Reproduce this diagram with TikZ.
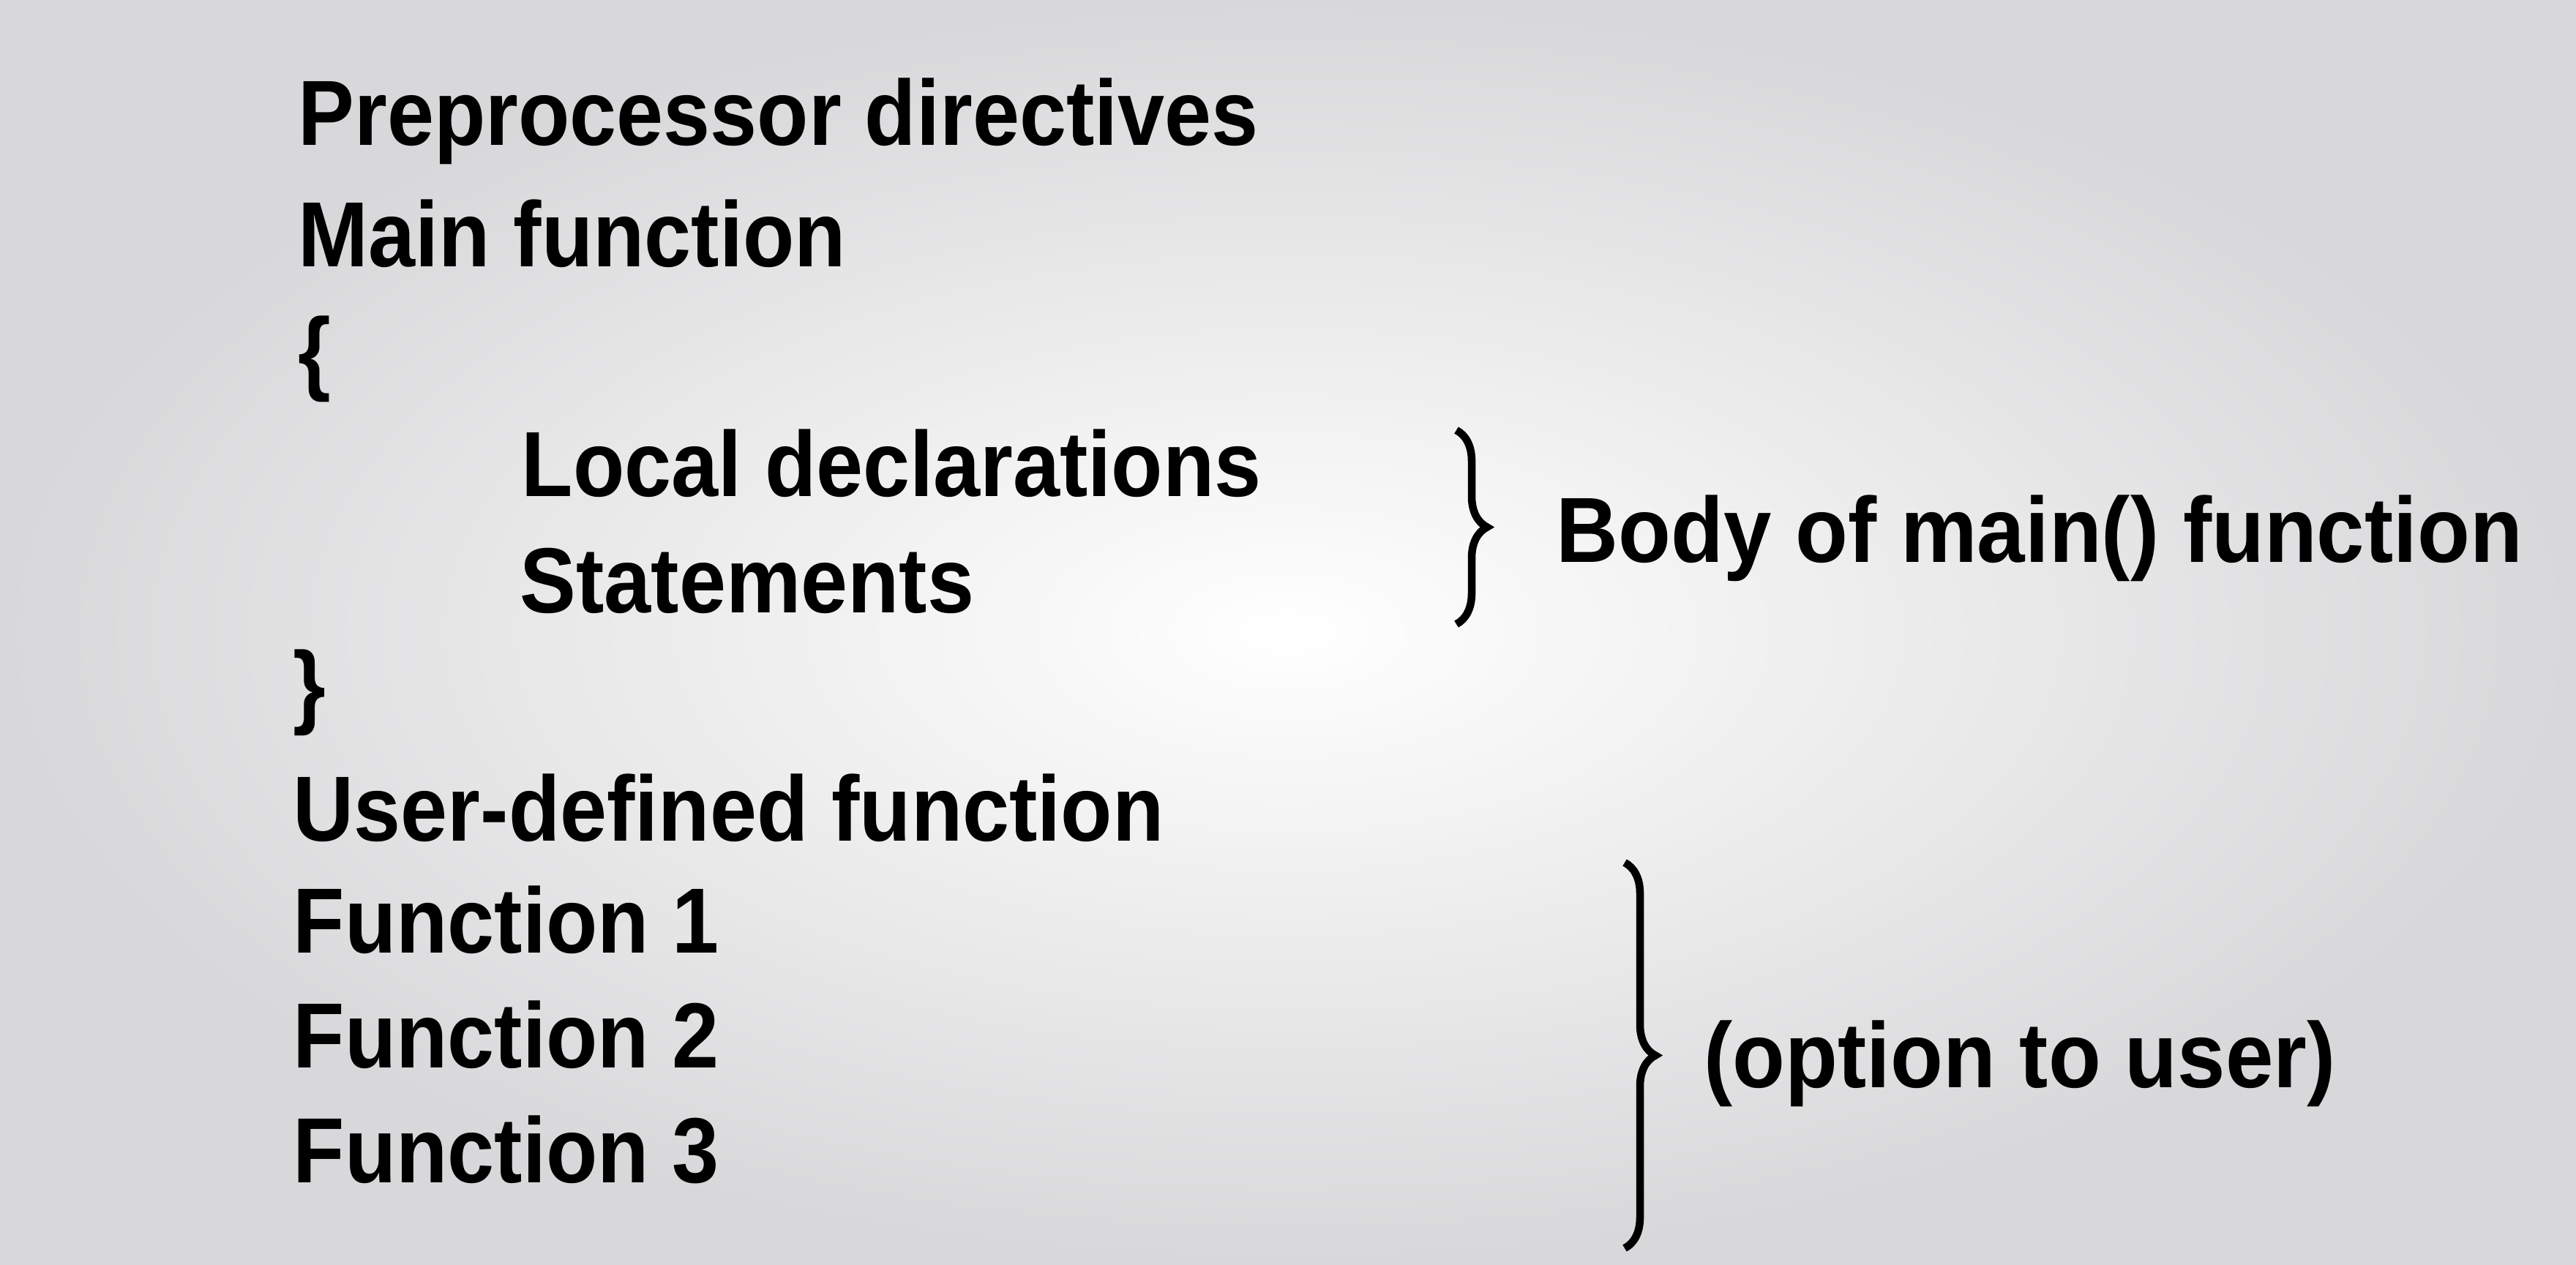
\documentclass[tikz,border=0pt]{standalone}
\usepackage{fontspec}
\setmainfont{Liberation Sans}[FakeStretch=0.91]
\usepackage{tikz}
\usetikzlibrary{positioning, decorations.pathreplacing, calc}
\definecolor{bgedge}{HTML}{D8D8DA}

\begin{document}
\begin{tikzpicture}[
    line/.style={anchor=base west, inner sep=0pt, font=\fontsize{36}{40}\selectfont\bfseries},
    remark/.style={line, font=\fontsize{36}{40}\selectfont\bfseries\addfontfeatures{FakeStretch=0.93}},
    curly/.style={decorate, decoration={brace, amplitude=0.42cm}, line width=3pt, black}
]

% Background
\useasboundingbox (0,0) rectangle (35.2,-17.28);
\shade[inner color=white, outer color=bgedge] (0,0) rectangle (35.2,-17.28);

% Program layout
\node[line] (pre) at (4.07,-1.98) {Preprocessor directives};
\node[line] (main) at (4.07,-3.64) {Main function};
\node[line] (open) at (4.07,-5.23) {\{};
\node[line] (local) at (7.12,-6.78) {Local declarations};
\node[line] (stmt) at (7.10,-8.37) {Statements};
\node[line] (close) at (4.00,-9.79) {\}};
\node[line] (user) at (4.00,-11.49) {User-defined function};
\node[line] (fone) at (4.00,-13.02) {Function 1};
\node[line] (ftwo) at (4.00,-14.59) {Function 2};
\node[line] (fthree) at (4.00,-16.16) {Function 3};

% Remarks
\node[remark] (body) at (21.26,-7.68) {Body of main() function};
\node[remark] (option) at (23.28,-14.86) {(option to user)};

% Braces
\coordinate (btop) at (19.90,-5.88);
\coordinate (bbot) at (19.90,-8.53);
\coordinate (otop) at (22.20,-11.79);
\coordinate (obot) at (22.20,-17.06);
\draw[curly] (btop) -- (bbot);
\draw[curly] (otop) -- (obot);

\end{tikzpicture}
\end{document}
